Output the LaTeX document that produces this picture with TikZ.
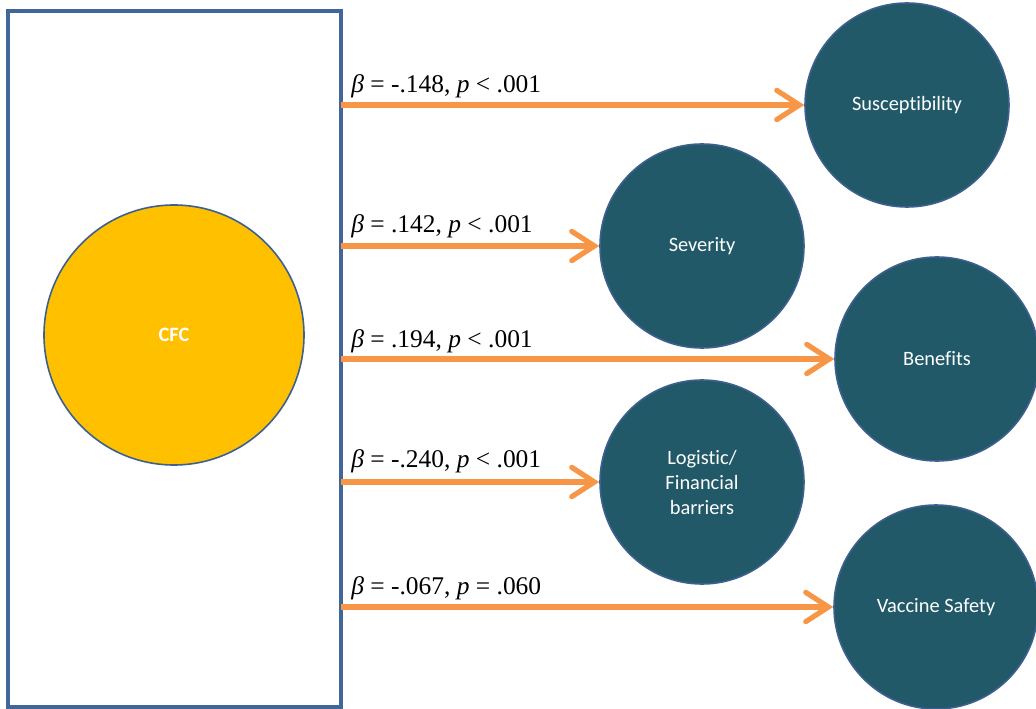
\documentclass[tikz,border=0pt]{standalone}
\usepackage{fontspec}
\setmainfont{Liberation Serif}
\newfontfamily\calibrifont[Ligatures=NoCommon]{Carlito}
\usetikzlibrary{arrows.meta}
\definecolor{teal}{HTML}{215968}
\definecolor{cborder}{HTML}{3D6090}
\definecolor{gold}{HTML}{FFC000}
\definecolor{orng}{HTML}{F79646}
\definecolor{boxblue}{HTML}{41679A}
\tikzset{
  outcome/.style={circle, fill=teal, draw=cborder, line width=1.2pt, inner sep=0pt,
    minimum size=153pt, text=white, align=center,
    font=\calibrifont\fontsize{15.3}{18.75}\selectfont},
  cfcnode/.style={circle, fill=gold, draw=cborder, line width=1.2pt, inner sep=0pt,
    minimum size=195pt, text=white, font=\calibrifont\bfseries\fontsize{15.3}{18}\selectfont},
  frame/.style={draw=boxblue, line width=2.3pt, fill=white, inner sep=0pt,
    minimum width=249.75pt, minimum height=522pt},
  arr/.style={draw=orng, line width=3.9pt,
    -{Straight Barb[length=17pt, width=22pt, line cap=round]}},
  betalab/.style={anchor=base west, inner sep=0pt, font=\fontsize{19.1}{22}\selectfont}
}
\begin{document}
\begin{tikzpicture}[x=0.75pt, y=-0.75pt]
\useasboundingbox (0,0) rectangle (1036,709);
\node[frame] (box) at (174.5,359) {};
\node[cfcnode] (cfc) at (174,335) {CFC};
\node[outcome] (sus) at (907,105) {Susceptibility};
\node[outcome] (sev) at (702,246) {Severity};
\node[outcome] (ben) at (937,359) {Benefits};
\node[outcome] (log) at (702,482) {Logistic/\\Financial\\barriers};
\node[outcome] (vac) at (936,607) {Vaccine Safety};
\coordinate (s1) at (341,105);
\coordinate (s2) at (341,246);
\coordinate (s3) at (341,359);
\coordinate (s4) at (341,482);
\coordinate (s5) at (341,607);
\draw[arr] (s1) -- (s1 -| sus.west);
\draw[arr] (s2) -- (s2 -| sev.west);
\draw[arr] (s3) -- (s3 -| ben.west);
\draw[arr] (s4) -- (s4 -| log.west);
\draw[arr] (s5) -- (s5 -| vac.west);
\node[betalab] (l1) at (351,93) {\textit{β} = -.148, \textit{p} < .001};
\node[betalab] (l2) at (351,233) {\textit{β} = .142, \textit{p} < .001};
\node[betalab] (l3) at (351,348) {\textit{β} = .194, \textit{p} < .001};
\node[betalab] (l4) at (351,467) {\textit{β} = -.240, \textit{p} < .001};
\node[betalab] (l5) at (351,594) {\textit{β} = -.067, \textit{p} = .060};
\end{tikzpicture}
\end{document}
